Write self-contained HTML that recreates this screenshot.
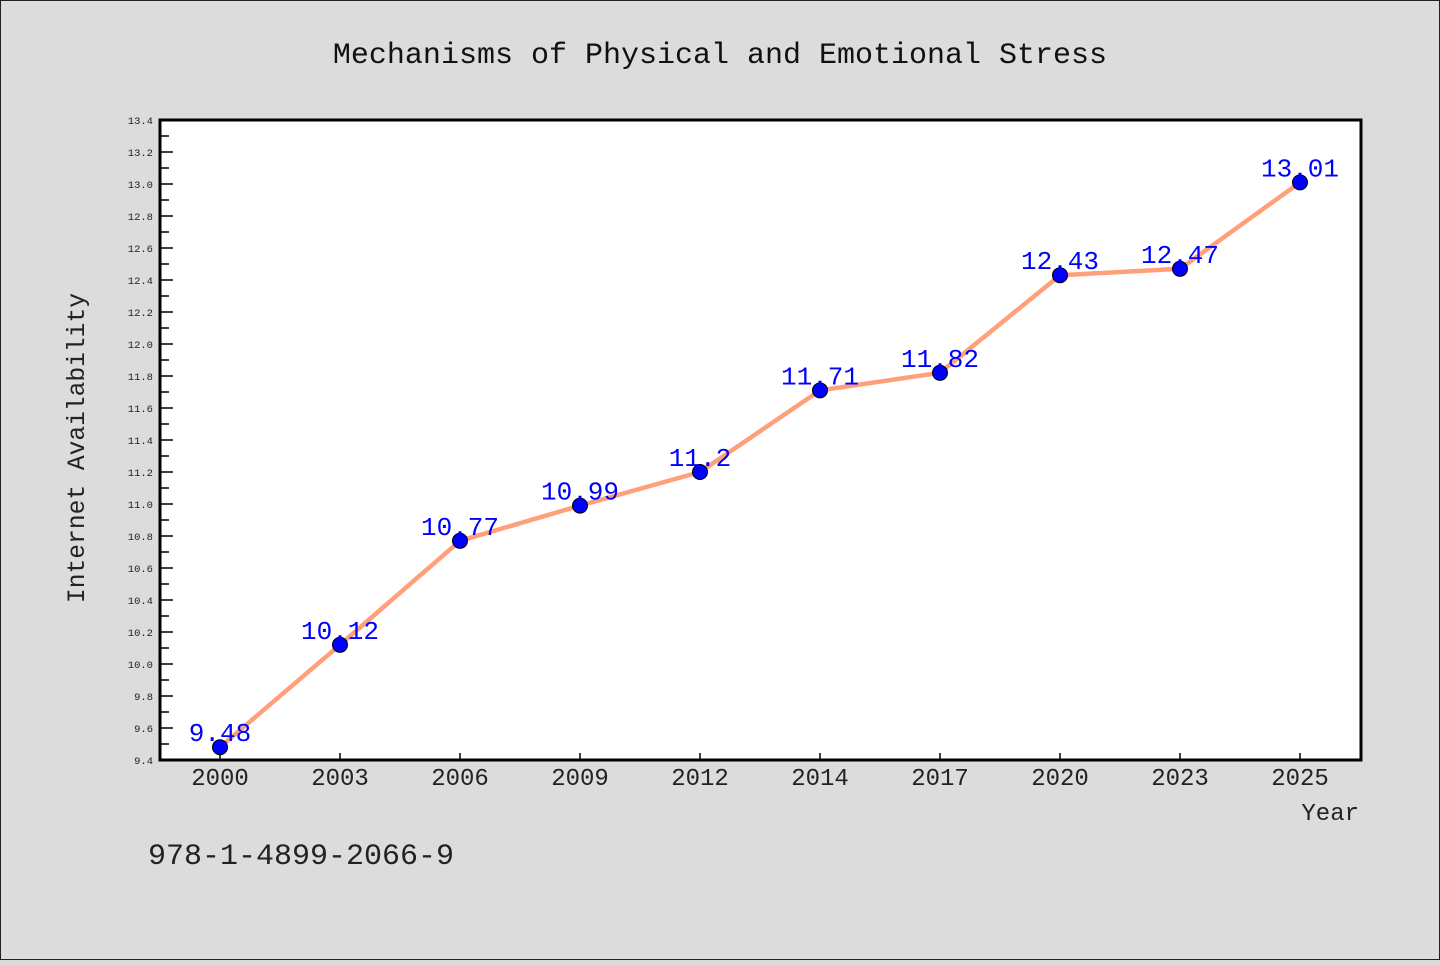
<!DOCTYPE html>
<html><head><meta charset="utf-8"><style>
html,body{margin:0;padding:0;background:#dcdcdc;}
svg text{font-family:"WenQuanYi Zen Hei Mono","Liberation Mono",monospace;}
</style></head><body>
<svg id="c" width="1440" height="960" xmlns="http://www.w3.org/2000/svg">
<rect x="0.5" y="0.5" width="1439" height="959" fill="#dcdcdc" stroke="#222"/>
<text x="720" y="63" font-size="30" text-anchor="middle" fill="#111">Mechanisms of Physical and Emotional Stress</text>
<rect x="160" y="120" width="1201" height="640" fill="#fff"/>
<g id="yt"></g><g id="xt"></g><g id="series"></g>
<rect x="160" y="120" width="1201" height="640" fill="none" stroke="#000" stroke-width="3"/>
<text transform="translate(84,448) rotate(-90)" font-size="24.6" text-anchor="middle" fill="#222">Internet Availability</text>
<text x="1359" y="820" font-size="24" text-anchor="end" fill="#222">Year</text>
<text x="148" y="864" font-size="30" fill="#222">978-1-4899-2066-9</text>
</svg>
<script>
const categories=["2000","2003","2006","2009","2012","2014","2017","2020","2023","2025"];
const values=[9.48,10.12,10.77,10.99,11.2,11.71,11.82,12.43,12.47,13.01];
const labels=["9.48","10.12","10.77","10.99","11.2","11.71","11.82","12.43","12.47","13.01"];
const yTicks=[9.4,9.6,9.8,10.0,10.2,10.4,10.6,10.8,11.0,11.2,11.4,11.6,11.8,12.0,12.2,12.4,12.6,12.8,13.0,13.2,13.4];
const yMin=9.4,yMax=13.4;
const NS="http://www.w3.org/2000/svg";
const L=160,R=1361,T=120,B=760;
const y=v=>B-(v-yMin)/(yMax-yMin)*(B-T);
const x=i=>220+i*(1300-220)/(categories.length-1);
function mk(t,a,p){const e=document.createElementNS(NS,t);for(const k in a)e.setAttribute(k,a[k]);p.appendChild(e);return e;}
const yt=document.getElementById('yt');
yTicks.forEach((v,i)=>{
 const l=mk('line',{x1:L,x2:L+13,y1:y(v),y2:y(v),stroke:'#000','stroke-width':1.5},yt);
 
 
 const t=mk('text',{x:153,y:y(v)+4,'font-size':10.5,'text-anchor':'end',fill:'#222'},yt);
 t.textContent=v.toFixed(1);
 
 
 if(i<yTicks.length-1){
  const m=mk('line',{x1:L,x2:L+9,y1:y(v+0.1),y2:y(v+0.1),stroke:'#000','stroke-width':1.5},yt);
  
  
 }
});
const xt=document.getElementById('xt');
categories.forEach((c,i)=>{
 const l=mk('line',{x1:x(i),x2:x(i),y1:B,y2:B-7,stroke:'#000','stroke-width':1.5},xt);
 
 
 const t=mk('text',{x:x(i),y:785,'font-size':24,'text-anchor':'middle',fill:'#222'},xt);
 t.textContent=c;
 
 
});
const s=document.getElementById('series');
const pl=mk('polyline',{points:values.map((v,i)=>x(i)+','+y(v)).join(' '),fill:'none',stroke:'#ffa07a','stroke-width':4.5,'stroke-linejoin':'round'},s);


values.forEach((v,i)=>{
 const c=mk('circle',{cx:x(i),cy:y(v),r:7.5,fill:'#0000ff',stroke:'#000','stroke-width':1},s);
 
 
 const t=mk('text',{x:x(i),y:y(v)-6,'font-size':26,'text-anchor':'middle',fill:'#0000ff'},s);
 t.textContent=labels[i];
 
 
});
</script>
</body></html>
